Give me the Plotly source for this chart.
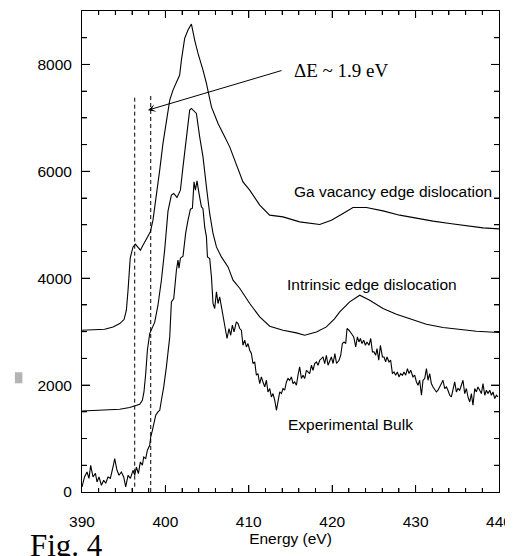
import plotly.graph_objects as go

# ---------------- data ----------------
# Ga vacancy edge dislocation (calculated)
ga_energy = [390.0, 391.52, 392.72, 393.72, 394.52, 395.04, 395.32, 395.52, 395.64, 395.78,
             395.92, 396.12, 396.4, 396.71, 397.0, 397.31, 397.72, 398.2, 398.51, 398.92,
             399.32, 399.71, 400.12, 400.52, 400.91, 401.39, 401.71, 401.92, 402.31, 402.71,
             403.12, 403.51, 403.91, 404.51, 404.92, 405.52, 406.31, 407.11, 407.71, 409.3,
             410.11, 411.31, 412.5, 414.1, 416.1, 418.5, 419.9, 421.3, 422.49, 424.1,
             426.09, 428.09, 430.1, 432.09, 434.09, 436.09, 438.08, 440.0]
ga_intensity = [3027, 3036, 3046, 3089, 3152, 3227, 3401, 3776, 4150, 4375,
                4463, 4586, 4637, 4575, 4525, 4618, 4744, 4867, 5086, 5522,
                6028, 6522, 6958, 7332, 7519, 7675, 7801, 8081, 8487, 8643,
                8755, 8456, 8207, 7894, 7645, 7207, 6896, 6646, 6458, 5803,
                5648, 5367, 5180, 5148, 5054, 5006, 5086, 5212, 5324, 5324,
                5260, 5180, 5118, 5068, 5024, 4979, 4942, 4923]

# Intrinsic edge dislocation (calculated)
intr_energy = [390.0, 392.12, 394.52, 395.72, 396.32, 396.92, 397.24, 397.43, 397.64, 397.84,
               398.12, 398.72, 399.11, 399.52, 399.91, 400.31, 400.72, 401.0, 401.39, 401.8,
               402.11, 402.52, 402.91, 403.12, 403.72, 404.11, 404.51, 404.92, 405.31, 405.71,
               406.12, 406.71, 407.51, 408.11, 408.91, 410.11, 411.31, 412.51, 414.1, 415.71,
               416.7, 418.11, 419.3, 420.3, 420.9, 422.1, 423.3, 424.5, 426.09, 427.7,
               429.29, 431.29, 433.29, 435.29, 437.29, 440.0]
intr_intensity = [1516, 1529, 1548, 1580, 1604, 1642, 1717, 1872, 2216, 2653,
                  2965, 3177, 3495, 3963, 4525, 5255, 5554, 5586, 5511, 5648,
                  6084, 6584, 7146, 7177, 7084, 6646, 6271, 5710, 5212, 4837,
                  4586, 4399, 4212, 3963, 3813, 3527, 3276, 3102, 3027, 2977,
                  2933, 2995, 3089, 3246, 3370, 3557, 3682, 3589, 3433, 3327,
                  3246, 3139, 3078, 3040, 3008, 2984]

# Experimental bulk spectrum
exp_energy = [390.0, 390.3, 390.6, 390.84, 391.04, 391.32, 391.61, 391.8, 392.04, 392.33,
              392.6, 392.84, 393.12, 393.4, 393.72, 393.92, 394.2, 394.44, 394.72, 395.0,
              395.24, 395.52, 395.8, 396.12, 396.32, 396.52, 396.76, 397.0, 397.24, 397.4,
              397.64, 397.84, 398.12, 398.24, 398.44, 398.6, 398.84, 399.11, 399.32, 399.52,
              399.8, 400.12, 400.31, 400.52, 400.72, 401.0, 401.32, 401.51, 401.63, 401.8,
              402.11, 402.43, 402.71, 403.0, 403.24, 403.43, 403.6, 403.79, 404.03, 404.32,
              404.5, 404.71, 404.92, 405.04, 405.31, 405.52, 405.71, 405.91, 406.12, 406.31,
              406.51, 406.71, 406.9, 407.11, 407.39, 407.63, 407.83, 408.03, 408.23, 408.51,
              408.71, 408.91, 409.11, 409.3, 409.51, 409.71, 409.9, 410.11, 410.31, 410.5,
              410.71, 410.91, 411.1, 411.31, 411.51, 411.7, 411.91, 412.11, 412.3, 412.51,
              412.71, 412.9, 413.11, 413.31, 413.5, 413.71, 413.91, 414.1, 414.3, 414.51,
              414.7, 414.9, 415.11, 415.3, 415.5, 415.71, 415.9, 416.1, 416.31, 416.5,
              416.7, 416.91, 417.1, 417.3, 417.51, 417.7, 417.9, 418.11, 418.3, 418.5,
              418.71, 418.9, 419.1, 419.3, 419.5, 419.7, 419.9, 420.1, 420.32, 420.52,
              420.82, 421.02, 421.22, 421.42, 421.62, 421.78, 422.01, 422.3, 422.58, 422.82,
              423.02, 423.21, 423.38, 423.57, 423.78, 423.98, 424.17, 424.41, 424.62, 424.82,
              425.01, 425.22, 425.37, 425.58, 425.78, 426.02, 426.21, 426.41, 426.57, 426.81,
              427.01, 427.22, 427.41, 427.61, 427.82, 428.01, 428.21, 428.42, 428.61, 428.81,
              429.02, 429.21, 429.41, 429.69, 429.89, 430.1, 430.29, 430.49, 430.7, 430.89,
              431.09, 431.3, 431.49, 431.69, 431.89, 432.09, 432.29, 432.49, 432.69, 432.89,
              433.09, 433.29, 433.49, 433.7, 433.88, 434.09, 434.29, 434.48, 434.69, 434.89,
              435.08, 435.29, 435.49, 435.68, 435.89, 436.09, 436.28, 436.49, 436.69, 436.88,
              437.09, 437.29, 437.48, 437.69, 437.89, 438.08, 438.29, 438.49, 438.68, 438.89,
              439.09, 439.28, 439.49, 439.69, 439.88]
exp_intensity = [94, 281, 374, 256, 500, 281, 350, 187, 281, 125,
                 219, 163, 281, 256, 468, 625, 406, 313, 374, 281,
                 94, 313, 256, 406, 313, 468, 344, 562, 500, 655,
                 625, 781, 874, 1030, 1155, 1280, 1436, 1498, 1529, 1717,
                 1966, 2340, 2653, 2902, 3557, 3620, 4150, 4338, 4188, 4375,
                 4412, 4843, 5086, 5292, 5311, 5803, 5648, 5822, 5586, 5335,
                 5305, 4961, 4774, 4399, 4369, 4025, 3527, 3433, 3744, 3527,
                 3650, 3463, 3340, 3089, 2872, 3059, 2933, 3121, 2995, 3182,
                 3152, 3059, 3027, 2746, 2840, 2714, 2778, 2653, 2591, 2404,
                 2434, 2185, 2216, 2029, 2153, 2059, 1966, 2091, 1872, 1936,
                 1778, 1842, 1717, 1529, 1685, 1872, 1842, 1936, 1904, 2059,
                 2123, 2091, 2153, 2029, 2059, 1997, 2185, 2340, 2123, 2185,
                 2123, 2278, 2246, 2216, 2372, 2278, 2404, 2434, 2372, 2466,
                 2497, 2527, 2404, 2559, 2372, 2466, 2527, 2404, 2591, 2404,
                 2466, 2559, 2778, 2808, 2778, 3059, 3027, 2965, 2902, 2714,
                 2902, 2808, 2872, 2778, 2840, 2746, 2808, 2746, 2872, 2621,
                 2621, 2559, 2684, 2466, 2746, 2527, 2527, 2434, 2527, 2434,
                 2466, 2216, 2246, 2185, 2246, 2153, 2216, 2185, 2246, 2185,
                 2310, 2216, 2278, 2153, 2185, 2059, 1997, 2091, 1810, 2091,
                 2123, 2310, 2091, 2216, 2029, 1966, 1904, 1872, 1904, 1966,
                 2059, 2091, 1936, 1966, 1904, 1810, 1778, 1936, 2059, 1872,
                 1936, 1904, 2029, 2091, 1842, 1936, 1778, 1685, 1842, 1623,
                 1936, 1872, 1966, 1904, 1842, 2029, 1810, 1904, 1842, 1904,
                 1810, 1872, 1748, 1810, 1778]

# dashed edge markers (energies) and their extent
edge_energy = [396.32, 398.24]
edge_low = [100, 0]
edge_high = [7430, 7430]

curve_labels = ["Ga vacancy edge dislocation", "Intrinsic edge dislocation", "Experimental Bulk"]
label_pos = [(415.2, 5629), (414.3, 3888), (414.4, 1267)]

# axis ranges and tick values (inner ticks; the ends coincide with the frame)
x_range = [390, 440]
y_range = [0, 9000]
x_major_ticks = [400, 410, 420, 430]
x_minor_ticks = [v for v in range(392, 440, 2) if v % 10]
y_major_ticks = [2000, 4000, 6000, 8000]
y_minor_ticks = [v for v in range(500, 9000, 500) if v % 2000]

assert len(ga_energy) == len(ga_intensity)
assert len(intr_energy) == len(intr_intensity)
assert len(exp_energy) == len(exp_intensity)

SANS = "Liberation Sans, Arial, Helvetica, sans-serif"
SERIF = "Liberation Serif, Times New Roman, serif"

PLOT_W, PLOT_H = 417, 481   # plot area size in px (tick lengths are given in px)

fig = go.Figure()
for xs, ys in [(ga_energy, ga_intensity), (intr_energy, intr_intensity), (exp_energy, exp_intensity)]:
    fig.add_trace(go.Scatter(x=xs, y=ys, mode="lines",
                             line=dict(color="black", width=1.1),
                             showlegend=False, hoverinfo="skip"))

for e, lo, hi in zip(edge_energy, edge_low, edge_high):
    fig.add_trace(go.Scatter(x=[e, e], y=[lo, hi], mode="lines",
                             line=dict(color="black", width=1, dash="4px,3px"),
                             showlegend=False, hoverinfo="skip"))

# inward tick marks on all four sides, as one line trace built from the tick values
y_per_px = (y_range[1] - y_range[0]) / PLOT_H
x_per_px = (x_range[1] - x_range[0]) / PLOT_W
tx, ty = [], []
for vals, length in [(x_major_ticks, 7), (x_minor_ticks, 4)]:
    d = length * y_per_px
    for v in vals:
        tx += [v, v, None, v, v, None]
        ty += [y_range[0], y_range[0] + d, None, y_range[1], y_range[1] - d, None]
for vals, length in [(y_major_ticks, 8), (y_minor_ticks, 5)]:
    d = length * x_per_px
    for v in vals:
        tx += [x_range[0], x_range[0] + d, None, x_range[1], x_range[1] - d, None]
        ty += [v, v, None, v, v, None]
fig.add_trace(go.Scatter(x=tx, y=ty, mode="lines", line=dict(color="black", width=1),
                         showlegend=False, hoverinfo="skip", connectgaps=False))

for text, (lx, ly) in zip(curve_labels, label_pos):
    fig.add_annotation(x=lx, y=ly, xref="x", yref="y", text=text, showarrow=False,
                       xanchor="left", yanchor="middle",
                       font=dict(family=SANS, size=15.5, color="black"))

# Delta E annotation with arrow
fig.add_annotation(x=397.91, y=7145, ax=414.1, ay=7894, xref="x", yref="y",
                   axref="x", ayref="y", text="", showarrow=True,
                   arrowhead=3, arrowsize=1.3, arrowwidth=1, arrowcolor="black")
fig.add_annotation(x=415.2, y=7894, xref="x", yref="y", text="ΔE ~ 1.9 eV",
                   showarrow=False, xanchor="left", yanchor="middle",
                   font=dict(family=SERIF, size=19, color="black"))

# Figure caption
fig.add_annotation(x=-0.13, y=-0.07, xref="paper", yref="paper", text="Fig. 4",
                   showarrow=False, xanchor="left", yanchor="top",
                   font=dict(family=SERIF, size=31, color="black"))

# small grey glyph at left
fig.add_shape(type="rect", xref="paper", yref="paper",
              x0=-0.161, x1=-0.143, y0=0.226, y1=0.249,
              fillcolor="#b4b4b4", line=dict(width=0))

tick_font = dict(family=SANS, size=15.5, color="black")

fig.update_xaxes(range=x_range, tickmode="linear", tick0=390, dtick=10,
                 ticks="inside", ticklen=7, tickcolor="black", tickwidth=1,
                 showline=True, linecolor="black", linewidth=1, mirror="allticks",
                 showgrid=False, zeroline=False, tickfont=tick_font,
                 ticklabelstandoff=15,
                 minor=dict(tickmode="linear", tick0=390, dtick=2, ticks="inside",
                            ticklen=4, tickcolor="black", tickwidth=1),
                 title=dict(text="Energy (eV)", font=tick_font, standoff=4))
fig.update_yaxes(range=y_range, tickmode="linear", tick0=0, dtick=2000,
                 ticks="inside", ticklen=8, tickcolor="black", tickwidth=1,
                 showline=True, linecolor="black", linewidth=1, mirror="allticks",
                 showgrid=False, zeroline=False, tickfont=tick_font,
                 ticklabelstandoff=6,
                 minor=dict(tickmode="linear", tick0=0, dtick=500, ticks="inside",
                            ticklen=5, tickcolor="black", tickwidth=1))

# page body has an 8px margin, so the figure is sized to end at the window edge
fig.update_layout(width=505, height=548, margin=dict(l=74, r=14, t=3, b=64, autoexpand=False),
                  paper_bgcolor="white", plot_bgcolor="white")

fig.write_html("out.html")
